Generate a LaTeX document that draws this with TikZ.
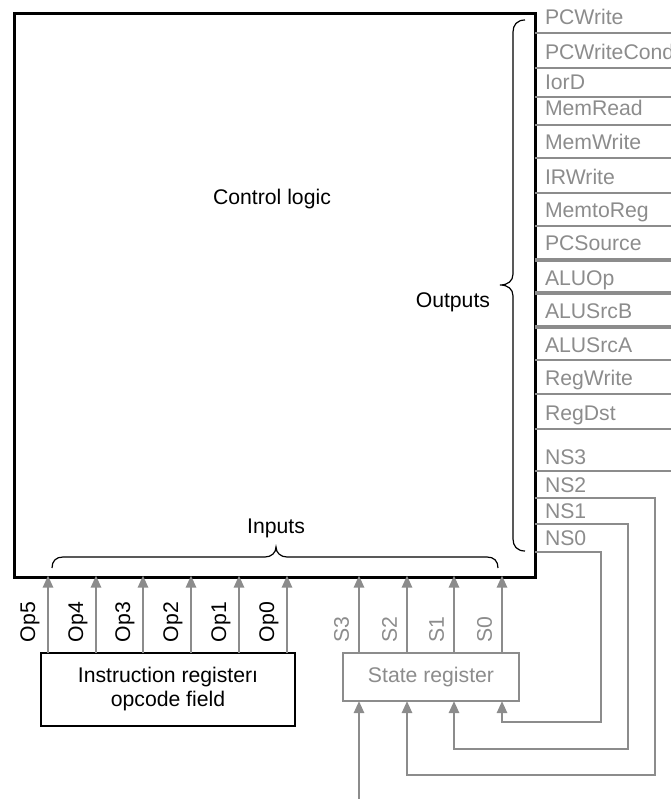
\documentclass[tikz,border=0pt]{standalone}
\usepackage{fontspec}
\setmainfont{Liberation Sans}
\usetikzlibrary{arrows.meta}
\definecolor{sig}{HTML}{8C8C8C}
\begin{document}
\begin{tikzpicture}[x=1pt,y=-1pt,
  every node/.style={font=\fontsize{21.2}{24}\selectfont, inner sep=0pt, outer sep=0pt},
  lbl/.style={text=sig, anchor=base west},
  arr/.style={draw=sig, line width=2.5pt, -{Triangle[length=12pt,width=10pt]}},
  brc/.style={draw=black, line width=1.2pt},
  vlbl/.style={rotate=90},
  vlblg/.style={rotate=90, text=sig}
]
\useasboundingbox (0,0) rectangle (670,799);

% main control logic box
\node[draw, line width=3pt, minimum width=521pt, minimum height=563pt, anchor=north west] (ctrl) at (14,14) {};
\node (cl) at (272,199) {Control logic};
\node[anchor=east] (outs) at (490,302) {Outputs};
\node (ins) at (276,528) {Inputs};

% braces
\draw[brc] (525,20) .. controls (517,20) and (513,25) .. (513,32) -- (513,274)
  .. controls (513,281) and (508,285) .. (500,285)
  .. controls (508,285) and (513,289) .. (513,296) -- (513,539)
  .. controls (513,546) and (517,551) .. (525,551);
\draw[brc] (52,568) .. controls (52,561) and (56,557) .. (63,557) -- (265,557)
  .. controls (271,557) and (276,553) .. (276,547)
  .. controls (276,553) and (281,557) .. (287,557) -- (487,557)
  .. controls (494,557) and (498,561) .. (498,568);

% output lines and labels
\foreach \y/\b/\t/\w in {33/25/PCWrite/2, 68/60/PCWriteCond/2, 97/90/IorD/2,
  125/116/MemRead/2, 158/150/MemWrite/2, 193/185/IRWrite/2, 226/218/MemtoReg/2,
  260/251/PCSource/4, 293/285/ALUOp/4, 327/318/ALUSrcB/3.5, 360/352/ALUSrcA/2,
  394/385/RegWrite/2, 429/420/RegDst/2, 471/464/NS3/2}{
  \draw[draw=sig, line width=\w pt] (ctrl.east |- 0,\y) -- (672,\y);
  \node[lbl] (l-\t) at (545,\b) {\t};
}
\node[lbl] (l-NS2) at (545,492) {NS2};
\node[lbl] (l-NS1) at (545,518) {NS1};
\node[lbl] (l-NS0) at (545,545) {NS0};

% instruction register
\node[draw, line width=2.5pt, minimum width=254pt, minimum height=73pt, align=center] (ir) at (168,689.5) {Instruction registerı\\opcode field};

% state register
\node[draw=sig, text=sig, line width=2pt, minimum width=176pt, minimum height=48pt] (state) at (431,677) {State register};

% opcode inputs
\foreach \x/\n in {48/5, 96/4, 143/3, 191/2, 239/1, 287/0}{
  \coordinate (op\n) at (\x,0);
  \draw[arr, shorten >=-1.5pt] (ir.north -| op\n) -- (ctrl.south -| op\n);
  \node[vlbl] (lop\n) at (\x-18,622) {Op\n};
}

% state inputs
\foreach \x/\n in {359/3, 407/2, 454/1, 502/0}{
  \coordinate (s\n) at (\x,0);
  \draw[arr, shorten >=-1.5pt] (state.north -| s\n) -- (ctrl.south -| s\n);
  \node[vlblg] (ls\n) at (\x-17.5,630) {S\n};
}

% feedback wires
\draw[arr] (ctrl.east |- 0,552) -| (601,722) -| (state.south -| s0);
\draw[arr] (ctrl.east |- 0,524) -| (628,749) -| (state.south -| s1);
\draw[arr] (ctrl.east |- 0,498) -| (655,775) -| (state.south -| s2);
\coordinate (sin) at (359,801);
\draw[arr] (sin) -- (state.south -| s3);
\end{tikzpicture}
\end{document}
